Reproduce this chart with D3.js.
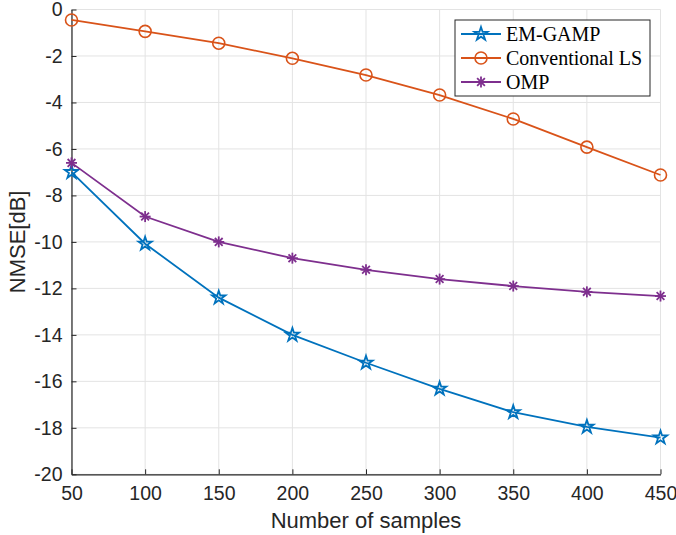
<!DOCTYPE html>
<html>
<head>
<meta charset="utf-8">
<script src="https://cdn.jsdelivr.net/npm/d3@7"></script>
<style>
body { margin: 0; background: #fff; }
</style>
</head>
<body>
<script>
var width = 676;
var height = 535;
var margin = {top: 9.5, right: 15, bottom: 61, left: 71.5};

var samples = [50, 100, 150, 200, 250, 300, 350, 400, 450];
var emGamp = [-7.0, -10.08, -12.4, -14.0, -15.2, -16.32, -17.33, -17.96, -18.42];
var convLS = [-0.45, -0.94, -1.45, -2.1, -2.82, -3.68, -4.71, -5.92, -7.12];
var omp = [-6.6, -8.91, -10.0, -10.7, -11.2, -11.6, -11.9, -12.15, -12.33];
var xTicks = [50, 100, 150, 200, 250, 300, 350, 400, 450];
var yTicks = [0, -2, -4, -6, -8, -10, -12, -14, -16, -18, -20];

var series = [
    {name: 'EM-GAMP', values: emGamp, color: '#0072BD', marker: 'star'},
    {name: 'Conventional LS', values: convLS, color: '#D95319', marker: 'circle'},
    {name: 'OMP', values: omp, color: '#7E2F8E', marker: 'asterisk'}
];

var svg = d3.select('body')
    .append('svg')
    .attr('width', width)
    .attr('height', height);

var x = d3.scaleLinear().domain([50, 450]).range([margin.left, width - margin.right - 0.5]);
var y = d3.scaleLinear().domain([-20, 0]).range([height - margin.bottom + 0.3, margin.top]);

// grid
svg.append('g')
    .selectAll('line')
    .data(xTicks)
    .enter()
    .append('line')
    .attr('x1', function (d) { return x(d); })
    .attr('x2', function (d) { return x(d); })
    .attr('y1', y(-20))
    .attr('y2', y(0))
    .attr('stroke', '#e3e3e3')
    .attr('stroke-width', 1);

svg.append('g')
    .selectAll('line')
    .data(yTicks)
    .enter()
    .append('line')
    .attr('y1', function (d) { return y(d); })
    .attr('y2', function (d) { return y(d); })
    .attr('x1', x(50))
    .attr('x2', x(450))
    .attr('stroke', '#e3e3e3')
    .attr('stroke-width', 1);

// axes (plain hyphen minus like the original)
var fmt = function (d) { return String(d); };
var xAxis = svg.append('g')
    .attr('transform', 'translate(0,' + y(-20) + ')')
    .call(d3.axisBottom(x).tickValues(xTicks).tickFormat(fmt).tickSizeInner(-5).tickSizeOuter(0).tickPadding(12));
var yAxis = svg.append('g')
    .attr('transform', 'translate(' + x(50) + ',0)')
    .call(d3.axisLeft(y).tickValues(yTicks).tickFormat(fmt).tickSizeInner(-5).tickSizeOuter(0).tickPadding(9));

[xAxis, yAxis].forEach(function (a) {
    a.select('.domain').attr('stroke', '#262626').attr('stroke-width', 1.2);
    a.selectAll('.tick line').attr('stroke', '#262626').attr('stroke-width', 1);
    a.selectAll('.tick text')
        .attr('fill', '#262626')
        .style('font-family', 'Liberation Sans, Arial, sans-serif')
        .style('font-size', '19.5px');
});

svg.append('text')
    .attr('x', (x(50) + x(450)) / 2)
    .attr('y', 528)
    .attr('text-anchor', 'middle')
    .attr('fill', '#262626')
    .style('font-family', 'Liberation Sans, Arial, sans-serif')
    .style('font-size', '22px')
    .text('Number of samples');

svg.append('text')
    .attr('transform', 'translate(25,' + (y(-10)) + ') rotate(-90)')
    .attr('text-anchor', 'middle')
    .attr('fill', '#262626')
    .style('font-family', 'Liberation Sans, Arial, sans-serif')
    .style('font-size', '22px')
    .text('NMSE[dB]');

var line = d3.line()
    .x(function (d, i) { return x(samples[i]); })
    .y(function (d) { return y(d); });

var star = d3.symbol().type(d3.symbolStar).size(55);

function drawMarker(g, type, color) {
    if (type === 'star') {
        g.append('path').attr('d', star()).attr('fill', 'none').attr('stroke', color).attr('stroke-width', 1.8);
    } else if (type === 'circle') {
        g.append('circle').attr('r', 6).attr('fill', 'none').attr('stroke', color).attr('stroke-width', 1.6);
    } else {
        var r = 5.5;
        [0, 45, 90, 135].forEach(function (a) {
            var rad = a * Math.PI / 180;
            g.append('line')
                .attr('x1', -r * Math.cos(rad)).attr('y1', -r * Math.sin(rad))
                .attr('x2', r * Math.cos(rad)).attr('y2', r * Math.sin(rad))
                .attr('stroke', color).attr('stroke-width', 1.8);
        });
    }
}

series.forEach(function (s) {
    svg.append('path')
        .datum(s.values)
        .attr('d', line)
        .attr('fill', 'none')
        .attr('stroke', s.color)
        .attr('stroke-width', 1.8);

    svg.selectAll(null)
        .data(s.values)
        .enter()
        .append('g')
        .attr('transform', function (d, i) { return 'translate(' + x(samples[i]) + ',' + y(d) + ')'; })
        .each(function () { drawMarker(d3.select(this), s.marker, s.color); });
});

// legend
var legend = svg.append('g').attr('transform', 'translate(455,20)');
legend.append('rect')
    .attr('width', 195)
    .attr('height', 76)
    .attr('fill', '#fff')
    .attr('stroke', '#262626')
    .attr('stroke-width', 1);

series.forEach(function (s, i) {
    var g = legend.append('g').attr('transform', 'translate(0,' + (14 + i * 24) + ')');
    g.append('line')
        .attr('x1', 6).attr('x2', 46)
        .attr('stroke', s.color).attr('stroke-width', 1.8);
    var m = g.append('g').attr('transform', 'translate(26,0)');
    drawMarker(m, s.marker, s.color);
    g.append('text')
        .attr('x', 51)
        .attr('y', 7)
        .attr('fill', '#000')
        .style('font-family', 'Liberation Serif, Times New Roman, serif')
        .style('font-size', '20px')
        .text(s.name);
});
</script>
</body>
</html>
